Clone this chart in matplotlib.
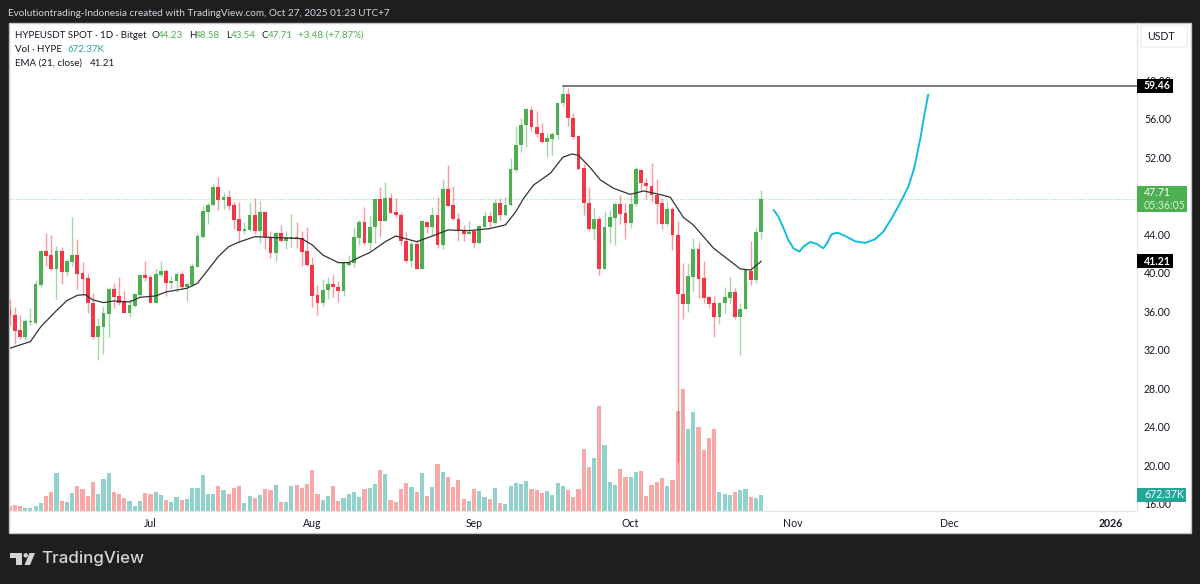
import numpy as np
import matplotlib
matplotlib.use("Agg")
import matplotlib.pyplot as plt
from matplotlib.patches import Rectangle, FancyBboxPatch, Polygon, Ellipse

# daily candles, HYPEUSDT from Jun 4 (bar 0) to Oct 26 (bar 144)
opens = [36.15,35.67,34.08,33.32,34.91,34.84,38.79,42.25,41.83,40.45,42.32,40.10,41.14,41.87,39.96,
         39.48,36.92,33.32,34.42,35.74,38.30,37.61,37.06,35.81,36.57,37.75,39.76,39.55,36.92,39.79,
         40.24,38.93,39.17,39.90,38.58,38.79,40.66,43.77,46.34,47.03,48.97,47.58,47.86,47.03,45.57,
         44.33,44.47,46.06,44.33,46.34,43.77,42.04,44.19,43.36,43.60,43.70,43.60,42.25,40.87,37.68,
         36.92,38.23,38.86,38.58,38.09,40.87,41.00,43.64,45.30,43.15,44.74,47.65,45.44,47.76,46.34,
         46.06,43.36,41.28,43.01,40.38,45.33,44.81,46.02,42.94,48.76,47.03,45.57,44.47,44.05,44.33,
         43.08,44.81,45.92,45.23,47.24,46.02,47.06,50.70,53.30,55.41,56.93,55.20,54.51,53.61,53.92,
         54.34,57.70,58.60,56.10,54.23,50.87,47.24,44.60,45.57,40.38,44.81,45.71,47.17,46.20,45.16,
         47.17,50.70,49.35,49.04,48.14,47.24,45.09,46.61,43.95,37.78,36.78,39.62,42.46,39.48,37.47,
         36.85,35.46,36.85,37.40,38.03,35.39,36.30,40.24,39.27,44.23]
highs = [37.26,36.43,35.60,35.19,36.36,39.27,42.39,44.12,43.91,42.80,42.67,41.42,45.85,43.53,41.14,
         40.03,37.89,35.29,36.57,38.51,39.00,39.62,38.16,37.33,37.89,39.83,41.28,39.83,40.38,41.21,
         40.45,39.69,40.10,40.24,39.10,41.00,44.12,46.96,47.38,49.25,49.94,48.41,48.62,47.41,47.41,
         45.33,47.41,47.76,47.51,46.34,44.33,44.19,44.95,44.33,46.13,45.30,44.40,44.74,41.63,38.75,
         39.34,39.55,39.90,39.20,41.00,41.83,44.74,45.51,46.82,45.92,47.65,48.97,49.49,48.28,47.79,
         46.34,44.26,43.29,43.43,45.51,45.33,46.89,47.93,49.73,51.22,49.04,46.20,44.99,45.37,44.36,
         44.99,46.48,46.37,47.72,47.76,47.93,51.91,55.20,56.07,57.11,57.35,56.79,55.55,54.58,54.68,
         57.70,59.43,59.18,56.59,54.34,51.32,48.97,46.72,45.92,46.48,46.54,47.41,48.10,47.24,48.10,
         50.98,50.77,49.83,51.39,49.73,47.76,47.41,46.89,45.44,41.00,41.00,43.60,43.22,41.21,37.61,
         37.61,36.99,38.58,39.62,38.44,36.85,40.31,43.29,44.64,48.58]
lows = [34.60,32.62,33.11,33.04,34.56,34.70,38.58,40.73,40.31,37.33,38.86,39.69,40.73,38.30,37.71,
        35.81,33.11,30.96,31.58,33.32,36.36,36.67,35.81,35.39,36.43,37.54,39.20,36.92,36.85,39.62,
        37.61,38.30,38.06,38.30,37.13,38.65,40.59,43.64,45.09,46.96,46.54,46.61,46.54,44.54,43.15,
        44.05,44.33,44.05,43.08,42.46,41.56,41.21,43.29,42.46,42.74,42.60,40.73,40.73,36.50,35.64,
        36.57,37.26,37.47,36.99,37.61,40.73,40.66,42.87,42.91,42.25,43.15,43.77,45.37,46.20,45.85,
        42.87,41.00,40.66,40.38,40.38,44.19,43.84,42.56,42.46,46.96,45.51,43.36,43.36,44.05,42.60,
        43.01,44.74,44.81,45.09,45.51,45.92,46.96,50.53,52.60,53.05,54.79,54.16,53.54,52.09,52.26,
        53.89,57.35,55.27,53.89,50.70,46.03,44.40,43.43,39.79,40.38,43.15,42.94,45.09,43.57,44.64,
        46.96,48.55,47.65,47.41,45.09,44.54,44.88,42.39,20.36,35.26,35.95,38.17,37.40,36.92,36.36,
        33.39,34.70,35.81,36.78,35.26,31.52,36.23,38.72,38.93,43.54]
closes = [35.64,34.01,33.32,34.98,35.01,38.86,42.25,41.77,40.38,42.32,40.10,41.21,41.87,39.90,39.41,
          36.85,33.32,34.49,35.81,38.30,37.54,36.92,35.81,36.67,37.82,39.76,39.48,36.92,39.90,40.21,
          38.93,39.20,39.90,38.58,38.86,40.73,43.84,46.41,47.10,48.97,47.58,47.86,46.96,45.51,44.33,
          44.54,46.02,44.33,46.34,43.70,42.04,44.19,43.36,43.70,43.77,43.50,42.18,40.80,37.61,36.92,
          38.23,38.86,38.51,38.09,41.00,41.07,43.70,45.30,43.15,44.74,47.65,45.44,47.79,46.27,45.99,
          43.29,41.28,43.01,40.38,45.37,44.81,46.02,42.94,48.76,46.96,45.57,44.40,44.05,44.26,43.15,
          44.88,45.92,45.30,47.24,45.99,47.06,50.77,53.30,55.41,57.00,55.20,54.44,53.61,53.99,54.41,
          57.70,58.60,56.10,54.16,50.77,47.24,44.60,45.57,40.38,44.81,45.78,47.17,46.13,45.16,47.17,
          50.77,49.31,49.04,48.14,47.17,45.09,46.61,43.95,37.78,36.78,39.69,42.46,39.41,37.40,36.78,
          35.46,36.92,37.47,38.03,35.39,36.30,40.31,39.27,44.26,47.71]
# volume in thousands of HYPE
volumes = [224,252,224,140,140,224,336,630,798,1596,420,364,756,1036,910,
           644,1232,728,1344,1596,812,700,532,420,210,420,742,700,798,672,
           476,378,588,476,504,952,980,1512,700,700,1036,896,728,952,1036,
           336,644,560,672,924,868,1092,392,392,1064,1092,980,1148,1736,700,
           476,644,1036,420,560,700,784,588,924,952,1148,1708,1540,476,364,
           924,1162,1008,784,1596,616,1008,1960,1624,1428,1008,1302,490,420,924,
           840,574,504,966,322,294,1050,1162,1134,1246,924,868,742,826,672,
           1162,1050,868,588,924,2604,1848,2212,4396,2772,1204,1092,1764,1428,1428,
           1624,1666,644,1092,1232,1400,1064,1302,4200,5124,3444,4172,3528,2576,3052,
           3444,784,728,672,812,868,910,574,532,672]

ema_bars = [0,2,4,6,9,11,13,14.5,16,18,20,23,25,28,30,34,36,38,40,42,44,47,51,56,58,60,63,65,67,69,72,
            74,78,81,84,88,92,95,96,97,98.5,100.4,103.6,106,107.7,109,111.2,113.2,115.7,118.9,121.5,
            124.7,126.6,129.1,131,134.9,137.4,140,142,144]
ema_vals = [32.17,32.52,32.87,34.42,36.09,37.13,37.68,37.75,37.19,36.92,37.09,36.99,37.47,37.61,38.03,
            38.41,38.93,40.31,41.70,42.74,43.22,43.77,43.67,43.57,42.91,41.87,41.07,41.07,41.63,42.11,
            43.25,43.84,43.25,43.84,44.47,44.40,44.61,44.99,45.68,46.37,47.76,49.14,50.35,52.02,52.36,
            52.22,50.98,49.66,48.80,48.17,48.52,48.14,47.86,45.78,44.99,42.56,41.52,40.42,40.31,41.21]

# hand drawn projection
brush_bars = [146.4,147.3,148.3,149.2,150.2,151.3,152.1,153.4,154.7,155.9,156.6,157.5,158.6,160.1,162,
              163.9,165.8,167.4,169,170.6,172.2,173.3,174.5,175.2,176]
brush_vals = [46.54,45.85,44.64,43.43,42.56,42.22,42.73,43.22,43.01,42.56,43.08,44.02,44.19,43.84,43.29,
              43.12,43.50,44.29,45.68,47.24,48.97,50.87,53.99,56.24,58.53]

resistance_bar = 106
resistance = 59.46
last_price = 47.71
last_ema = 41.21
last_vol = 672.37

price_ticks = [16,20,24,28,32,36,40,44,52,56,60]
month_bars = [27,58,89,119,150,180,211]
month_labels = ["Jul","Aug","Sep","Oct","Nov","Dec","2026"]

GREEN = "#4caf50"
RED = "#f23645"
TEAL = "#26a69a"
DARK = "#131722"
FS = 7.6
LEG = 7.05
plt.rcParams['font.family'] = ["Lato", 'DejaVu Sans']

fig = plt.figure(figsize=(12, 5.84), dpi=100, facecolor="#1e1e1e")

def fx(px):
    return px / 1200

def fy(py):
    return 1 - py / 584

# white card behind the chart
fig.patches.append(Rectangle((fx(9), fy(533)), fx(1182), 510/584, transform=fig.transFigure,
                             facecolor="white", edgecolor="#c4c4c4", lw=1, zorder=-2))

ax_vol = fig.add_axes([fx(9.5), fy(511), 1127.5/1200, 488/584])
ax = fig.add_axes([fx(9.5), fy(511), 1127.5/1200, 488/584], sharex=ax_vol)
ax.patch.set_visible(False)
ax_vol.set_facecolor("none")

bars = np.arange(len(opens))
o = np.array(opens)
h = np.array(highs)
l = np.array(lows)
c = np.array(closes)
up = c >= o
colors = np.where(up, GREEN, RED)

# volume
vol_colors = np.where(up, "#92d2cc", "#f7a9a7")
ax_vol.bar(bars, volumes, width=0.8, color=vol_colors, linewidth=0)
ax_vol.set_ylim(0, 488 * 42)
ax_vol.set_yticks([])

# candles
ax.axhline(last_price, color="#7fcf85", lw=0.8, ls=(0, (1, 1.5)), alpha=0.7, zorder=1)
ax.vlines(bars, l, h, colors=colors, lw=1, alpha=0.5, zorder=2)
body = np.maximum(np.abs(c - o), 0.12)
ax.bar(bars, body, bottom=np.minimum(o, c), width=0.72, color=colors, linewidth=0, zorder=3)

ax.plot(ema_bars, ema_vals, color="#333333", lw=0.9, zorder=4)
ax.plot(brush_bars, brush_vals, color="#12bcdc", lw=1.4, zorder=4, solid_capstyle="round")
ax.plot([resistance_bar, 216], [resistance, resistance], color="#555555", lw=1.1, zorder=4)

ax.set_xlim(0, 216)
ax.set_ylim(15.27, 65.97)
ax.yaxis.tick_right()
ax.set_yticks(price_ticks)
ax.set_yticklabels(["%.2f" % t for t in price_ticks], fontsize=FS, color=DARK)
ax.set_xticks(month_bars)
ax.set_xticklabels(month_labels, fontsize=FS, color=DARK)
ax.get_xticklabels()[-1].set_fontweight("bold")
ax.tick_params(axis="both", length=0)
ax.tick_params(axis="y", pad=5)
ax.tick_params(axis="x", pad=5)
ax_vol.tick_params(axis="x", length=0, labelbottom=False)

for a in (ax, ax_vol):
    for s in ("top", "left"):
        a.spines[s].set_visible(False)
    a.spines["right"].set_color("#e6e6e6")
    a.spines["bottom"].set_color("#e6e6e6")

# price pills on the right axis
ytrans = ax.get_yaxis_transform()
def pill(price, w_px, h_px, color, label, sub=None, fontweight="normal"):
    hh = h_px / 9.625 / 2
    ax.add_patch(Rectangle((1, price - hh), w_px / 1127.5, hh * 2, transform=ytrans, clip_on=False,
                           facecolor=color, edgecolor="none", zorder=6))
    if sub is None:
        ax.text(1 + 7 / 1127.5, price, label, transform=ytrans, color="white", fontsize=FS,
                ha="left", va="center", zorder=7, fontweight=fontweight, clip_on=False)
    else:
        ax.text(1 + 7 / 1127.5, price + 0.68, label, transform=ytrans, color="white", fontsize=FS,
                ha="left", va="center", zorder=7, clip_on=False)
        ax.text(1 + 7 / 1127.5, price - 0.68, sub, transform=ytrans, color="#d7f0d8", fontsize=FS,
                ha="left", va="center", zorder=7, clip_on=False)

pill(resistance, 36, 14, "black", "%.2f" % resistance, fontweight="bold")
pill(last_price - 0.03, 50, 26, GREEN, "%.2f" % last_price, sub="05:36:05")
pill(last_ema, 36, 14, "black", "%.2f" % last_ema, fontweight="bold")
# same pill, the volume label sits on the price scale
pill(56 - (495 - 119) / 9.625, 49, 14, TEAL, "%.2fK" % last_vol)

fig.patches.append(FancyBboxPatch((fx(1141), fy(47)), fx(46), 21/584, transform=fig.transFigure,
                                  boxstyle="round,pad=0,rounding_size=0.002", facecolor="white",
                                  edgecolor="#ececec", lw=0.8))
fig.text(fx(1147), fy(36.5), "USDT", fontsize=FS, color=DARK, va="center")

# header and legend
fig.text(fx(8), fy(13), "Evolutiontrading-Indonesia created with TradingView.com, Oct 27, 2025 01:23 UTC+7",
         fontsize=7.2, color="#d1d4dc", va="center")
fig.text(fx(15), fy(35.5), "HYPEUSDT SPOT · 1D · Bitget", fontsize=LEG, color=DARK, va="center")
for px, s, col in [(151, "O", DARK), (158, "44.23", GREEN), (189, "H", DARK), (195, "48.58", GREEN),
                   (226, "L", DARK), (231, "43.54", GREEN), (261, "C", DARK), (268, "47.71", GREEN),
                   (298, "+3.48 (+7.87%)", GREEN)]:
    fig.text(fx(px), fy(35.5), s, fontsize=LEG, color=col, va="center")
fig.text(fx(15), fy(49.5), "Vol · HYPE", fontsize=LEG, color=DARK, va="center")
fig.text(fx(68), fy(49.5), "672.37K", fontsize=LEG, color=TEAL, va="center")
fig.text(fx(15), fy(63.5), "EMA (21, close)", fontsize=LEG, color=DARK, va="center")
fig.text(fx(90), fy(63.5), "41.21", fontsize=LEG, color=DARK, va="center")

# TradingView logo
logo = "#d4d4d4"
fig.patches.append(Polygon([(fx(10), fy(553)), (fx(22), fy(553)), (fx(22), fy(565)), (fx(15.5), fy(565)),
                            (fx(15.5), fy(557.5)), (fx(10), fy(557.5))], transform=fig.transFigure,
                           facecolor=logo, edgecolor="none"))
fig.patches.append(Polygon([(fx(29.5), fy(553)), (fx(35), fy(553)), (fx(30), fy(565)), (fx(24.5), fy(565))],
                           transform=fig.transFigure, facecolor=logo, edgecolor="none"))
fig.patches.append(Ellipse((fx(25.7), fy(555.3)), 4.4/1200, 4.4/584, transform=fig.transFigure,
                           facecolor=logo, edgecolor="none"))
fig.text(fx(41), fy(558.5), "TradingView", fontsize=12.2, color=logo, va="center", family="Inter", fontweight="medium")

fig.savefig("out.png", dpi=100, facecolor=fig.get_facecolor())
